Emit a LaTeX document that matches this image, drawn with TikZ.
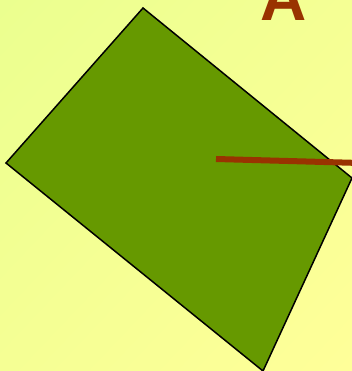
\documentclass[tikz,border=0pt]{standalone}
\usepackage{fontspec}
\setmainfont{Liberation Sans}
\usetikzlibrary{shadings}
\definecolor{leaf}{HTML}{669900}
\definecolor{rust}{HTML}{993300}
\definecolor{paleA}{HTML}{EBFF8F}
\definecolor{paleB}{HTML}{FFFF99}
\definecolor{paleM}{HTML}{F5FF94}
\begin{document}
\begin{tikzpicture}[x=1pt,y=-1pt,plate/.style={draw=black,line width=1.5pt,fill=leaf,line join=miter},rod/.style={draw=rust,line width=6pt}]
\useasboundingbox (0,0) rectangle (352,371);
\clip (0,0) rectangle (352,371);
\shade[upper left=paleA,upper right=paleM,lower left=paleM,lower right=paleB] (0,0) rectangle (352,371);
\coordinate (T) at (143,8); \coordinate (R) at (352,178);
\coordinate (B) at (263,371); \coordinate (L) at (6,163);
\draw[plate] (T)--(R)--(B)--(L)--cycle;
\coordinate (P) at (216,159); \coordinate (Q) at (360,163);
\draw[rod] (P)--(Q);
\node[anchor=base,text=rust,font=\fontsize{64}{64}\selectfont\bfseries,inner sep=0pt] (lbl) at (283.5,21) {A};
\end{tikzpicture}
\end{document}
